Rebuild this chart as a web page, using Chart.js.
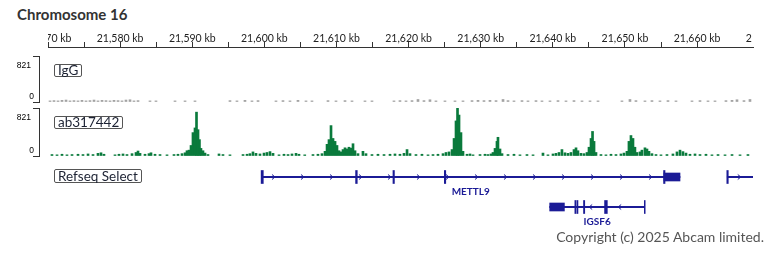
<!DOCTYPE html>
<html>
<head>
<meta charset="utf-8">
<script src="https://cdn.jsdelivr.net/npm/chart.js@4.4.1/dist/chart.umd.min.js"></script>
<style>
body { margin:0; width:768px; height:256px; background:#fff; position:relative; overflow:hidden; font-family:Lato, sans-serif; }
canvas { position:absolute; left:0; }
.title { position:absolute; left:17px; top:7px; font-size:15px; line-height:15px; font-weight:bold; color:#333; }
.tag { position:absolute; left:54px; font-size:13.5px; line-height:11px; padding:0 3px; border:1px solid #555; border-radius:2px; color:#1c2233; background:#fff; }
.copy { position:absolute; right:4px; top:230px; font-size:14px; line-height:14px; color:#555; }
</style>
</head>
<body>
<div class="title">Chromosome 16</div>
<canvas id="ruler" width="768" height="50" style="top:0"></canvas>
<canvas id="igg" width="768" height="48" style="top:55px"></canvas>
<canvas id="ab" width="768" height="50" style="top:107px"></canvas>
<canvas id="genes" width="768" height="70" style="top:160px"></canvas>
<div class="tag" style="top:64px">IgG</div>
<div class="tag" style="top:116px">ab317442</div>
<div class="tag" style="top:169px;line-height:12px">Refseq Select</div>
<div class="copy">Copyright (c) 2025 Abcam limited.</div>
<script>
const VIEW_START = 21570, VIEW_END = 21667.75;
const trackMax = 821;
const rulerLabels = [21570, 21580, 21590, 21600, 21610, 21620, 21630, 21640, 21650, 21660, 21670];

const iggPos = [
  21570.28, 21570.83, 21571.39, 21571.94, 21572.50, 21573.05, 21573.60, 21574.16, 21574.71, 21575.27,
  21575.82, 21576.38, 21576.93, 21577.49, 21578.04, 21578.60, 21579.15, 21579.71, 21580.26, 21580.81,
  21581.37, 21581.92, 21582.48, 21584.14, 21584.97, 21587.61, 21589.00, 21590.38, 21595.23, 21596.20,
  21597.31, 21598.28, 21599.12, 21601.61, 21602.58, 21603.55, 21604.66, 21605.77, 21606.60, 21608.82,
  21609.93, 21611.18, 21612.15, 21613.95, 21614.92, 21617.97, 21618.80, 21619.64, 21620.47, 21621.30,
  21622.13, 21622.96, 21623.79, 21625.04, 21626.43, 21627.54, 21628.79, 21629.62, 21630.45, 21631.28,
  21632.12, 21633.09, 21633.78, 21634.61, 21635.72, 21636.55, 21637.66, 21638.49, 21639.60, 21640.71,
  21641.82, 21642.93, 21644.04, 21645.15, 21646.26, 21649.58, 21650.69, 21651.52, 21652.77, 21653.74,
  21654.85, 21655.96, 21657.07, 21659.29, 21660.40, 21661.51, 21662.48, 21664.00, 21664.84, 21665.53,
  21666.50, 21667.33
];
const iggVal = [
  20, 25, 20, 30, 35, 20, 25, 20, 30, 20,
  25, 35, 20, 30, 25, 20, 30, 25, 20, 35,
  40, 20, 25, 20, 20, 20, 20, 20, 25, 20,
  30, 20, 25, 20, 25, 20, 30, 20, 20, 25,
  20, 25, 20, 20, 20, 20, 25, 20, 25, 45,
  25, 40, 20, 20, 20, 20, 25, 30, 25, 30,
  25, 45, 25, 20, 25, 20, 25, 20, 20, 25,
  20, 25, 20, 20, 20, 20, 45, 25, 20, 25,
  20, 25, 20, 20, 25, 20, 20, 25, 30, 40,
  25, 45
];

const abPos = [
  21570.55, 21571.25, 21571.94, 21572.63, 21573.33, 21574.16, 21574.85, 21575.55, 21576.24, 21576.93,
  21577.35, 21577.76, 21579.29, 21579.84, 21580.40, 21580.95, 21581.65, 21582.20, 21582.48, 21582.76,
  21583.45, 21584.00, 21584.28, 21584.84, 21585.53, 21586.50, 21587.47, 21588.02, 21588.58, 21589.00,
  21589.27, 21589.55, 21589.83, 21590.10, 21590.38, 21590.59, 21590.80, 21591.00, 21591.21, 21591.49,
  21591.77, 21592.18, 21593.71, 21594.26, 21595.23, 21597.04, 21597.60, 21598.00, 21598.42, 21598.84,
  21599.39, 21599.95, 21600.36, 21600.78, 21601.20, 21602.03, 21602.72, 21603.28, 21603.83, 21604.39,
  21604.80, 21605.60, 21606.74, 21607.43, 21607.99, 21608.41, 21608.69, 21608.96, 21609.24, 21609.52,
  21609.80, 21610.07, 21610.35, 21610.63, 21610.90, 21611.18, 21611.46, 21611.73, 21612.01, 21612.29,
  21612.57, 21612.98, 21613.67, 21614.09, 21614.92, 21615.75, 21616.59, 21617.42, 21618.11, 21618.80,
  21619.36, 21619.78, 21620.19, 21621.02, 21621.85, 21622.69, 21623.38, 21624.07, 21624.77, 21625.18,
  21625.60, 21626.02, 21626.30, 21626.57, 21626.78, 21626.99, 21627.26, 21627.54, 21628.10, 21628.51,
  21628.93, 21629.90, 21630.59, 21631.00, 21631.42, 21631.70, 21631.98, 21632.25, 21632.39, 21632.67,
  21632.95, 21633.78, 21634.61, 21635.44, 21636.41, 21637.25, 21638.63, 21639.32, 21640.02, 21640.43,
  21640.85, 21641.26, 21641.68, 21642.10, 21642.51, 21642.93, 21643.21, 21643.48, 21643.90, 21644.32,
  21644.73, 21645.01, 21645.29, 21645.50, 21645.71, 21645.98, 21646.67, 21647.36, 21648.06, 21648.75,
  21649.44, 21649.86, 21650.27, 21650.55, 21650.83, 21651.11, 21651.38, 21651.66, 21652.08, 21652.35,
  21652.77, 21653.05, 21653.33, 21653.74, 21654.30, 21654.99, 21655.82, 21656.65, 21657.21, 21657.63,
  21658.04, 21658.46, 21659.01, 21659.71, 21660.40, 21661.23, 21662.06, 21662.90, 21663.87, 21664.84,
  21665.95, 21667.05
];
const abVal = [
  25, 20, 30, 20, 25, 30, 25, 35, 25, 45,
  55, 30, 20, 30, 35, 25, 40, 60, 85, 45,
  30, 40, 55, 30, 25, 20, 25, 30, 40, 55,
  90, 100, 180, 400, 480, 750, 450, 280, 130, 90,
  50, 25, 35, 25, 20, 25, 30, 40, 70, 45,
  35, 50, 60, 75, 45, 20, 30, 25, 35, 45,
  30, 20, 25, 30, 40, 80, 200, 280, 520, 300,
  250, 180, 90, 70, 110, 140, 120, 150, 135, 210,
  90, 40, 80, 40, 25, 30, 25, 30, 35, 30,
  45, 110, 40, 25, 30, 20, 25, 30, 40, 60,
  70, 110, 300, 600, 815, 700, 400, 80, 30, 35,
  20, 25, 30, 25, 35, 60, 130, 250, 320, 120,
  40, 25, 30, 20, 25, 20, 50, 20, 35, 45,
  60, 110, 55, 45, 60, 110, 140, 90, 45, 40,
  60, 150, 300, 420, 250, 60, 25, 20, 30, 25,
  35, 50, 80, 250, 350, 300, 150, 60, 70, 100,
  140, 120, 80, 40, 25, 20, 25, 35, 70, 100,
  75, 50, 30, 35, 25, 30, 20, 25, 20, 25,
  20, 25
];

const geneRows = ['METTL9', 'IGSF6'];
const intronRow = ['METTL9', 'METTL9', 'IGSF6'];
const intronFrom = [21599.6, 21664.18, 21639.56];
const intronTo = [21657.63, 21670, 21652.73];
const intronStrand = [1, 1, -1];
const intronLabel = ['METTL9', '', 'IGSF6'];
const utrRow = ['METTL9', 'IGSF6'];
const utrFrom = [21655.4, 21639.56];
const utrTo = [21657.63, 21641.6];
const exonRow = ['METTL9', 'METTL9', 'METTL9', 'METTL9', 'METTL9', 'METTL9', 'IGSF6', 'IGSF6', 'IGSF6', 'IGSF6', 'IGSF6'];
const exonFrom = [21599.55, 21612.65, 21617.83, 21624.95, 21655.35, 21664.12, 21643.05, 21643.33, 21644.25, 21647.17, 21652.68];
const exonTo = [21599.85, 21612.88, 21618.03, 21625.15, 21655.55, 21664.32, 21643.2, 21643.48, 21644.42, 21647.55, 21652.8];

const GENE_COLOR = '#1b1b96';
const AB_COLOR = '#0a7a3c';
const IGG_COLOR = '#a3a3a3';

// signal tracks start their y bracket 9px left of the ruler start
const trackMin = VIEW_START - (48 - 39) * (VIEW_END - VIEW_START) / (753 - 48);

const rulerText = {
  id: 'rulerText',
  afterDraw(chart) {
    const ctx = chart.ctx, x = chart.scales.x, a = chart.chartArea;
    ctx.save();
    ctx.beginPath();
    ctx.rect(a.left, 0, a.right - a.left, a.top);
    ctx.clip();
    ctx.font = '10.5px Lato';
    ctx.fillStyle = '#222';
    ctx.textAlign = 'center';
    ctx.textBaseline = 'alphabetic';
    rulerLabels.forEach(v => ctx.fillText(v.toLocaleString('en-US') + ' kb', x.getPixelForValue(v), 42));
    ctx.restore();
  }
};

const rangeText = {
  id: 'rangeText',
  afterDraw(chart) {
    const ctx = chart.ctx, y = chart.scales.y;
    ctx.save();
    ctx.font = '8.5px "Liberation Sans"';
    ctx.fillStyle = '#000';
    ctx.textAlign = 'right';
    ctx.textBaseline = 'alphabetic';
    ctx.fillText(String(trackMax), 31, y.getPixelForValue(trackMax) + 12);
    ctx.fillText('0', 34, y.getPixelForValue(0) - 3);
    ctx.restore();
  }
};

const geneDecor = {
  id: 'geneDecor',
  afterDatasetsDraw(chart) {
    const ctx = chart.ctx, a = chart.chartArea;
    const lines = chart.getDatasetMeta(0).data;
    const blocks = chart.getDatasetMeta(1).data.concat(chart.getDatasetMeta(2).data);
    ctx.save();
    ctx.beginPath();
    ctx.rect(a.left, 0, a.right - a.left, chart.height);
    ctx.clip();
    ctx.strokeStyle = GENE_COLOR;
    ctx.fillStyle = GENE_COLOR;
    ctx.lineWidth = 1;
    lines.forEach((el, i) => {
      const left = Math.min(el.x, el.base), right = Math.max(el.x, el.base), d = intronStrand[i];
      for (let px = left + 12; px < right - 3; px += 29) {
        const hit = blocks.some(b => Math.abs(b.y - el.y) < 1 && px > Math.min(b.x, b.base) - 1 && px < Math.max(b.x, b.base) + 1);
        if (hit) continue;
        ctx.beginPath();
        ctx.moveTo(px - 1.5 * d, el.y - 2.5);
        ctx.lineTo(px + 1.5 * d, el.y);
        ctx.lineTo(px - 1.5 * d, el.y + 2.5);
        ctx.stroke();
      }
      if (intronLabel[i]) {
        ctx.font = 'bold 10px Lato';
        ctx.textAlign = 'center';
        ctx.textBaseline = 'middle';
        ctx.fillText(intronLabel[i], (left + right) / 2, el.y + 14.5);
      }
    });
    ctx.restore();
  }
};

Chart.defaults.font.family = 'Lato';

new Chart(document.getElementById('ruler'), {
  type: 'scatter',
  data: { datasets: [] },
  options: {
    responsive: false,
    animation: false,
    layout: { padding: { left: 48, right: 15, top: 42, bottom: 0 } },
    plugins: { legend: { display: false }, tooltip: { enabled: false } },
    scales: {
      x: {
        type: 'linear', position: 'top', min: VIEW_START, max: VIEW_END,
        ticks: { display: false, stepSize: 5 },
        afterBuildTicks: s => { s.ticks = s.ticks.filter(t => t.value % 5 === 0) },
        grid: { drawOnChartArea: false, tickLength: 5, color: '#333' },
        border: { color: '#333', width: 1 }
      },
      y: { display: false }
    }
  },
  plugins: [rulerText]
});

function signalTrack(id, pos, val, color) {
  new Chart(document.getElementById(id), {
    type: 'bar',
    data: {
      datasets: [{
        data: pos.map((p, i) => ({ x: p, y: val[i] })),
        backgroundColor: color,
        barThickness: 2,
        borderWidth: 0
      }]
    },
    options: {
      responsive: false,
      animation: false,
      layout: { padding: { top: 1, bottom: 1, right: 15, left: 0 } },
      plugins: { legend: { display: false }, tooltip: { enabled: false } },
      scales: {
        x: { type: 'linear', offset: false, min: trackMin, max: VIEW_END, display: false },
        y: {
          min: 0, max: trackMax,
          afterBuildTicks: s => { s.ticks = [{ value: 0 }, { value: trackMax }] },
          afterFit: s => { s.width = 39 },
          ticks: { display: false },
          grid: { drawOnChartArea: false, tickLength: 6, color: '#333' },
          border: { color: '#333' }
        }
      }
    },
    plugins: [rangeText]
  });
}

signalTrack('igg', iggPos, iggVal, IGG_COLOR);
signalTrack('ab', abPos, abVal, AB_COLOR);

new Chart(document.getElementById('genes'), {
  type: 'bar',
  data: {
    labels: geneRows,
    datasets: [
      { data: intronFrom.map((f, i) => ({ y: intronRow[i], x: [f, intronTo[i]] })), backgroundColor: GENE_COLOR, barThickness: 1.3 },
      { data: utrFrom.map((f, i) => ({ y: utrRow[i], x: [f, utrTo[i]] })), backgroundColor: GENE_COLOR, barThickness: 8 },
      { data: exonFrom.map((f, i) => ({ y: exonRow[i], x: [f, exonTo[i]] })), backgroundColor: GENE_COLOR, barThickness: 13 }
    ]
  },
  options: {
    indexAxis: 'y',
    responsive: false,
    animation: false,
    layout: { padding: { left: 48, right: 15, top: 2, bottom: 8 } },
    datasets: { bar: { grouped: false, borderWidth: 0 } },
    plugins: { legend: { display: false }, tooltip: { enabled: false } },
    scales: {
      x: { type: 'linear', min: VIEW_START, max: VIEW_END, display: false },
      y: { display: false }
    }
  },
  plugins: [geneDecor]
});
</script>
</body>
</html>
